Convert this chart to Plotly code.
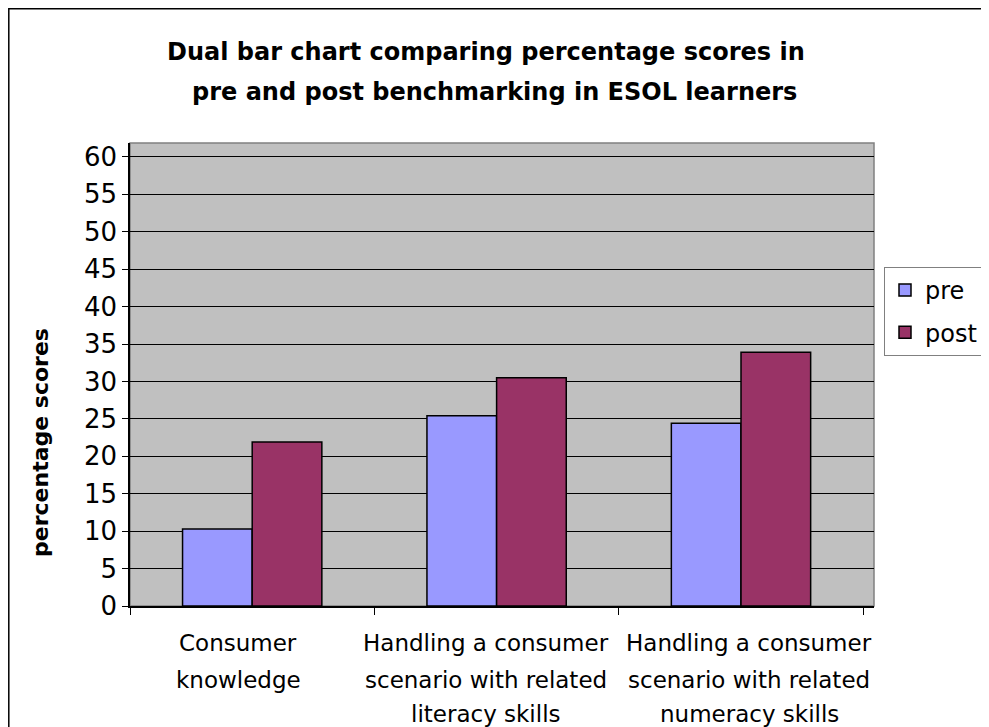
import plotly.graph_objects as go

categories = [
    "Consumer knowledge",
    "Handling a consumer scenario with related literacy skills",
    "Handling a consumer scenario with related numeracy skills",
]
category_label_lines = [
    ["Consumer", "knowledge"],
    ["Handling a consumer", "scenario with related", "literacy skills"],
    ["Handling a consumer", "scenario with related", "numeracy skills"],
]
pre_scores = [10.3, 25.4, 24.4]
post_scores = [21.9, 30.5, 33.9]
series_names = ["pre", "post"]
y_ticks = list(range(0, 61, 5))

title_lines = [
    "Dual bar chart comparing percentage scores in",
    "pre and post benchmarking in ESOL learners",
]
y_title = "percentage scores"

FONT = "DejaVu Sans"

fig = go.Figure()
fig.add_trace(go.Bar(
    x=categories, y=pre_scores, name=series_names[0], legendgroup="a",
    marker=dict(color="#9999FF", line=dict(color="black", width=1.5)),
))
fig.add_trace(go.Bar(
    x=categories, y=post_scores, name=series_names[1], legendgroup="b",
    marker=dict(color="#993366", line=dict(color="black", width=1.5)),
))

# page body has an 8px margin; the figure is placed at (8, 8) in the window
OFF = 8
WIN_W, WIN_H = 989, 727
W, H = WIN_W - OFF, WIN_H - OFF
# plot area in window pixels
PL, PR, PT, PB = 130, 874, 143, 606
ml, mr, mt, mb = PL - OFF, W - (PR - OFF), PT - OFF, H - (PB - OFF)
pw = PR - PL
ph = PB - PT

def px_x(p):
    return (p - PL) / pw

def px_y(p):
    return (PB - p) / ph

annotations = []
title_centers = [486, 494]
title_ys = [52, 92]
for t, cx, cy in zip(title_lines, title_centers, title_ys):
    annotations.append(dict(
        text=f"<b>{t}</b>", xref="paper", yref="paper",
        x=px_x(cx), y=px_y(cy), xanchor="center", yanchor="middle",
        showarrow=False, font=dict(family=FONT, size=24, color="black"),
    ))
annotations.append(dict(
    text=f"<b>{y_title}</b>", xref="paper", yref="paper",
    x=px_x(40), y=px_y(443), xanchor="center", yanchor="middle",
    textangle=-90, showarrow=False,
    font=dict(family=FONT, size=22, color="black"),
))
line_ys = [643, 680, 714]
label_shifts = [-14, -11, 8]
for cat, lines, sh in zip(categories, category_label_lines, label_shifts):
    for i, ln in enumerate(lines):
        annotations.append(dict(
            text=ln, xref="x", yref="paper", x=cat, y=px_y(line_ys[i]),
            xanchor="center", yanchor="middle", showarrow=False, xshift=sh,
            font=dict(family=FONT, size=23, color="black"),
        ))

shapes = [
    dict(type="rect", xref="paper", yref="paper", x0=0, x1=1, y0=0, y1=1,
         line=dict(color="#808080", width=1.5), layer="below"),
    dict(type="rect", xref="paper", yref="paper",
         x0=px_x(OFF + 0.8), x1=px_x(WIN_W + 10),
         y0=px_y(WIN_H + 10), y1=px_y(OFF + 0.8),
         line=dict(color="black", width=1.5)),
]

fig.update_layout(
    width=W, height=H,
    margin=dict(l=ml, r=mr, t=mt, b=mb, pad=0, autoexpand=False),
    paper_bgcolor="white", plot_bgcolor="#C0C0C0",
    barmode="group", bargap=0.43, bargroupgap=0,
    font=dict(family=FONT, color="black"),
    showlegend=True,
    legend=dict(
        xref="container", yref="container",
        x=(884 - OFF) / W, y=1 - (267 - OFF) / H,
        xanchor="left", yanchor="top",
        bgcolor="white", bordercolor="#808080", borderwidth=1,
        font=dict(family=FONT, size=24, color="black"),
        tracegroupgap=8, itemwidth=30,
    ),
    annotations=annotations,
    shapes=shapes,
)
fig.update_xaxes(
    showline=True, linecolor="black", linewidth=1.5,
    ticks="outside", tickson="boundaries", ticklen=7, tickcolor="black",
    tickwidth=1, showticklabels=False, showgrid=False, fixedrange=True,
)
fig.update_yaxes(
    range=[0, 61.85], tickvals=y_ticks, ticktext=[str(v) for v in y_ticks],
    showline=True, linecolor="black", linewidth=1.5,
    ticks="outside", ticklen=6, tickcolor="black", tickwidth=1,
    showgrid=True, gridcolor="black", gridwidth=1, zeroline=False,
    tickfont=dict(family=FONT, size=26, color="black"),
)

fig.write_html("out.html")
